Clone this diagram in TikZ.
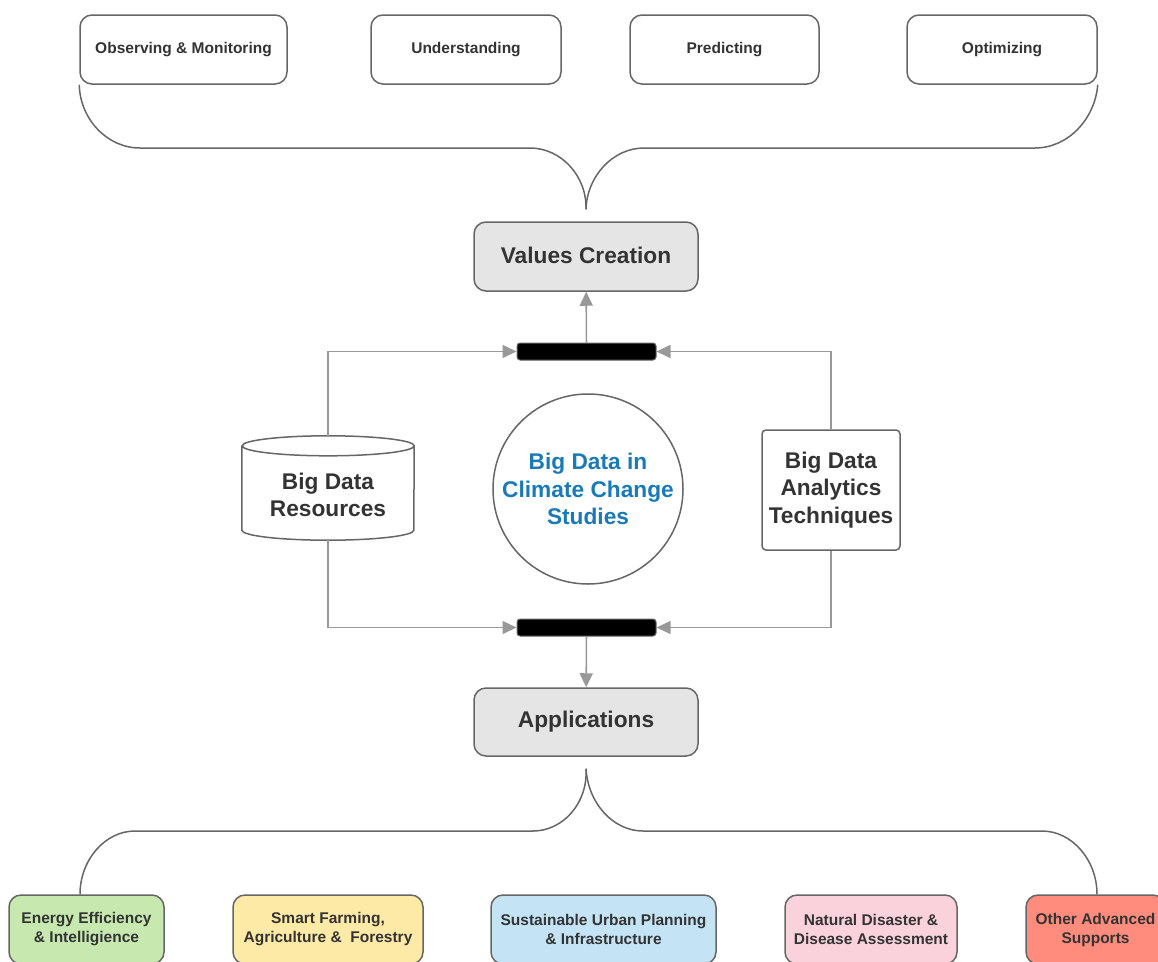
\documentclass[tikz,border=0pt]{standalone}
\usepackage{fontspec}
\setmainfont{Liberation Sans}
\usetikzlibrary{positioning,arrows.meta}
\definecolor{edgegray}{HTML}{666666}
\definecolor{arrowgray}{HTML}{999999}
\definecolor{textgray}{HTML}{333333}
\definecolor{hubgray}{HTML}{E5E5E5}
\definecolor{titleblue}{HTML}{1A7AB8}
\definecolor{appgreen}{HTML}{C7E9B0}
\definecolor{appyellow}{HTML}{FEEAA7}
\definecolor{appblue}{HTML}{C4E4F6}
\definecolor{apppink}{HTML}{F9D2DC}
\definecolor{appred}{HTML}{FF8C7C}
\tikzset{
  goal/.style={draw=edgegray,line width=1.5pt,rounded corners=12pt,minimum height=69pt,
    inner sep=0pt,align=center,text=textgray,font=\fontsize{15.5}{19}\selectfont\bfseries},
  hub/.style={goal,fill=hubgray,minimum width=224pt,font=\fontsize{22.7}{27.5}\selectfont\bfseries},
  app/.style={goal,minimum height=69pt},
  bar/.style={draw=edgegray,fill=black,line width=1pt,rounded corners=3pt,
    minimum width=139pt,minimum height=17pt,inner sep=0pt},
  big/.style={align=center,text=textgray,inner sep=0pt,font=\fontsize{22.7}{27.5}\selectfont\bfseries},
  link/.style={draw=arrowgray,line width=1.6pt,-{Triangle[length=14pt,width=13pt]}},
  brace/.style={draw=edgegray,line width=1.5pt}
}
\begin{document}
\begin{tikzpicture}[x=1pt,y=-1pt]
    \useasboundingbox (0,0) rectangle (1158,961);

    \node[goal,minimum width=207pt] (obs) at (183.5,49.5) {Observing \& Monitoring};
    \node[goal,minimum width=190pt] (und) at (466,49.5) {Understanding};
    \node[goal,minimum width=189pt] (pre) at (724.5,49.5) {Predicting};
    \node[goal,minimum width=190pt] (opt) at (1002,49.5) {Optimizing};

    \node[hub] (values) at (586,256.5) {\raisebox{3pt}{Values Creation}};
    \coordinate [above=12pt of values] (vtip);
    \node[bar] (topbar) at (586.5,351.5) {};

    \node[minimum width=172pt,minimum height=104pt,inner sep=0pt] (res) at (328,488) {};
    \node[big,draw=edgegray,line width=1.5pt,circle,minimum size=190pt,text=titleblue] (core) at (588,489)
        {Big Data in\\Climate Change\\Studies};
    \node[big,draw=edgegray,line width=1.5pt,rounded corners=4pt,minimum width=138pt,minimum height=120pt]
        (tech) at (831,490) {Big Data\\Analytics\\Techniques};

    \node[bar] (botbar) at (586.5,627.5) {};
    \node[hub,minimum height=68pt] (apps) at (586,722) {Applications};
    \coordinate [below=12pt of apps] (atip);

    \node[app,fill=appgreen,minimum width=155pt] (energy) at (86.5,929.5) {Energy Efficiency\\\& Intelligience};
    \node[app,fill=appyellow,minimum width=190pt] (farm) at (328,929.5) {Smart Farming,\\Agriculture \&\ \ Forestry};
    \node[app,fill=appblue,minimum width=225pt] (urban) at (603.5,929.5) {Sustainable Urban Planning\\\& Infrastructure};
    \node[app,fill=apppink,minimum width=172pt] (hazard) at (871,929.5) {Natural Disaster \&\\Disease Assessment};
    \node[app,fill=appred,minimum width=139pt] (other) at (1095.5,929.5) {Other Advanced\\Supports};

    \draw[brace,fill=white] ([yshift=-10pt]res.north west) -- ([yshift=10pt]res.south west)
        arc[start angle=180,end angle=360,x radius=86pt,y radius=10pt] -- ([yshift=-10pt]res.north east)
        arc[start angle=0,end angle=360,x radius=86pt,y radius=10pt];
    \node[big,yshift=-7pt] (restext) at (res) {Big Data\\Resources};

    \draw[brace] (obs.south west) .. controls (80,119) and (107,148) .. (140,148) -- (530,148)
        .. controls (561,148) and (587,176) .. (vtip);
    \draw[brace] (opt.south east) .. controls (1095,119) and (1068,148) .. (1035,148) -- (644,148)
        .. controls (613,148) and (587,176) .. (vtip);

    \draw[link] (topbar) -- (values);
    \draw[link] (res.north) |- (topbar.west);
    \draw[link] (tech.north) |- (topbar.east);
    \draw[link] (res.south) |- (botbar.west);
    \draw[link] (tech.south) |- (botbar.east);
    \draw[link] (botbar) -- (apps);

    \draw[brace] (atip) .. controls (588,803) and (563,831) .. (533,831) -- (135,831)
        .. controls (105,831) and (80,860) .. ([xshift=-6.5pt]energy.north);
    \draw[brace] (atip) .. controls (588,803) and (613,831) .. (643,831) -- (1042,831)
        .. controls (1072,831) and (1097,860) .. ([xshift=1.5pt]other.north);
\end{tikzpicture}
\end{document}
